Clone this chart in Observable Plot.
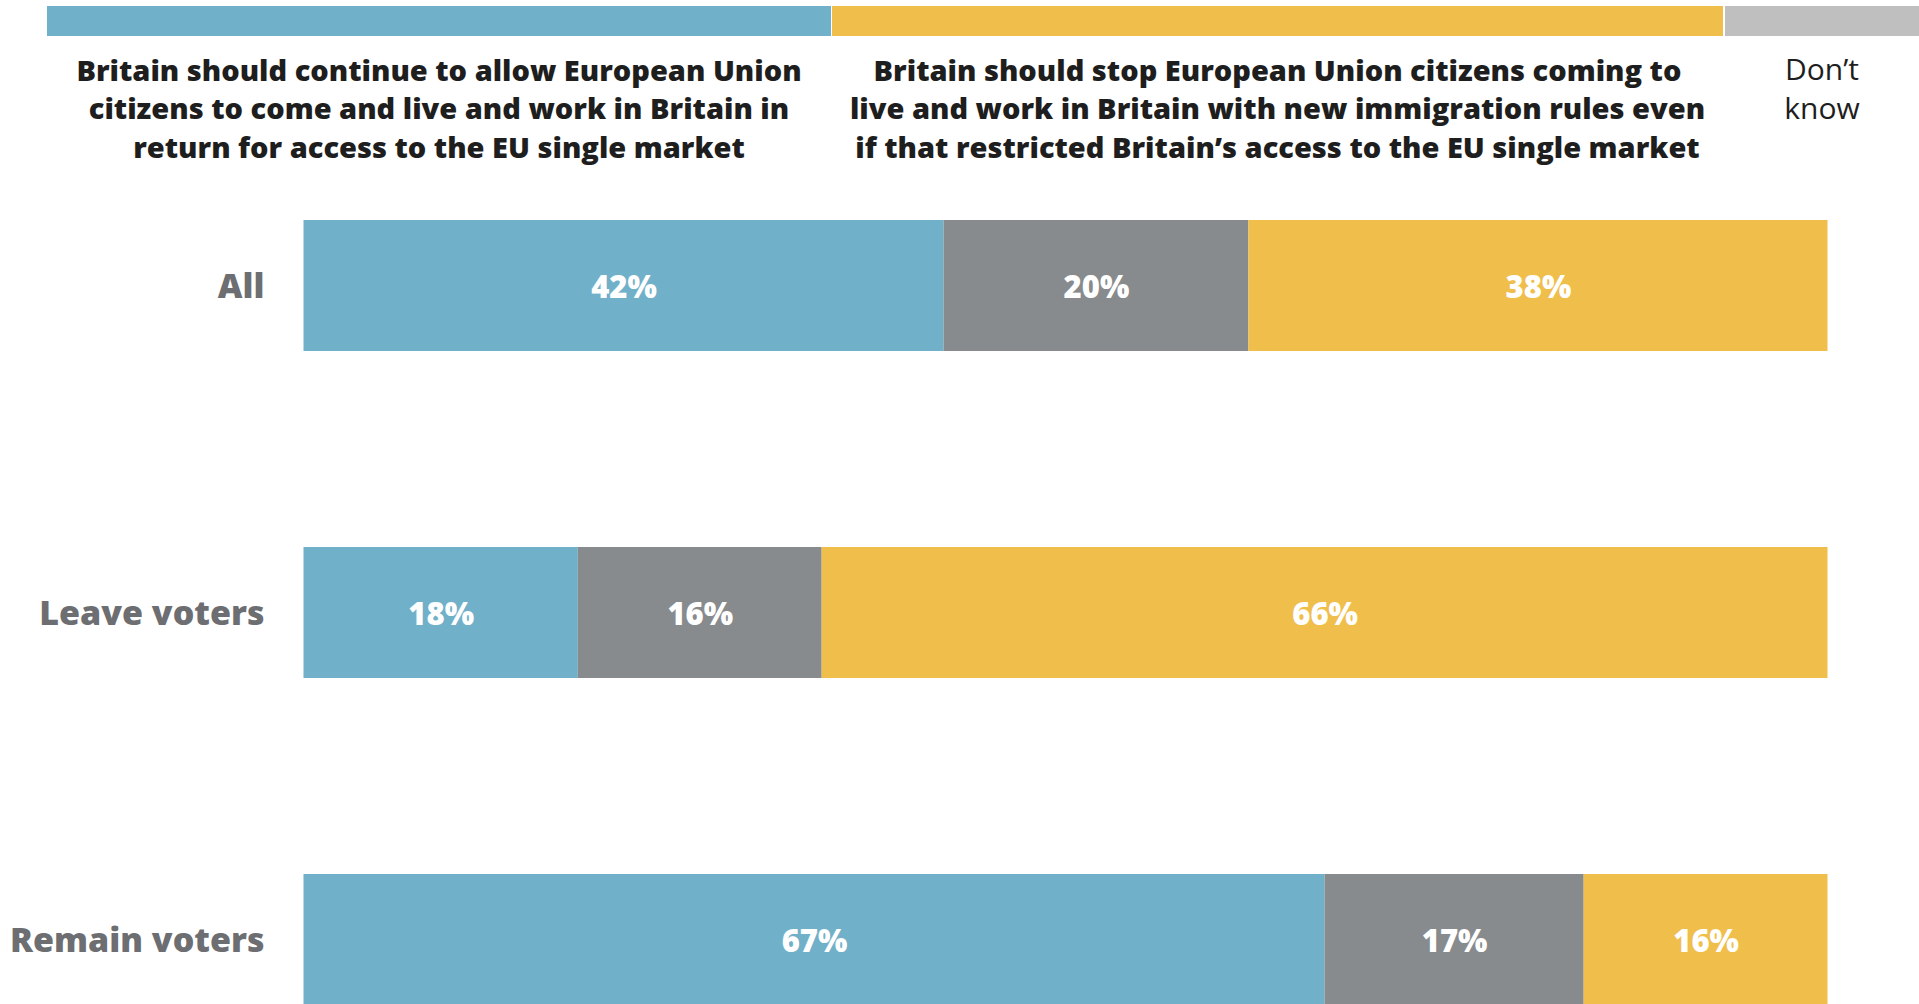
<!DOCTYPE html>
<html>
<head>
<meta charset="utf-8">
<script src="https://cdn.jsdelivr.net/npm/d3@7"></script>
<script src="https://cdn.jsdelivr.net/npm/@observablehq/plot@0.6"></script>
<style>
  html, body { margin: 0; padding: 0; background: #fff; overflow: hidden; width: 1919px; height: 1004px; }
  #wrap { position: relative; width: 1919px; height: 1004px; font-family: "Open Sans", "Noto Sans", sans-serif; }
  #chart { position: absolute; left: 0; top: 0; }
  .lg-bar { position: absolute; top: 6px; height: 30px; }
  .lg-text { position: absolute; top: 50.5px; text-align: center; font-size: 29px; line-height: 38.5px; color: #1e1e1e; }
  .lg-text.light { font-size: 30px; top: 50px; }
</style>
</head>
<body>
<div id="wrap">
  <div id="chart"></div>
  <div id="legend"></div>
</div>
<script>
// ---- data ----
const groups = ["All", "Leave voters", "Remain voters"];
const answers = ["Continue", "Don't know", "Stop"];
const continueValues = [42, 18, 67];
const dontKnowValues = [20, 16, 17];
const stopValues = [38, 66, 16];
const answerColors = ["#71b0c9", "#888b8d", "#f0be4a"];

// legend entries (header)
const legendLabels = [
  ["Britain should continue to allow European Union", "citizens to come and live and work in Britain in", "return for access to the EU single market"],
  ["Britain should stop European Union citizens coming to", "live and work in Britain with new immigration rules even", "if that restricted Britain\u2019s access to the EU single market"],
  ["Don\u2019t", "know"]
];
const legendColors = ["#71b0c9", "#f0be4a", "#bfbfbf"];
const legendWeights = [800, 800, 400];

// ---- table ----
const valuesByAnswer = [continueValues, dontKnowValues, stopValues];
const table = [];
groups.forEach((g, i) => {
  answers.forEach((a, j) => {
    table.push({group: g, answer: a, value: valuesByAnswer[j][i]});
  });
});

const chart = Plot.plot({
  width: 1919,
  height: 1006,
  marginLeft: 303.5,
  marginRight: 91.5,
  marginTop: 219,
  marginBottom: 0,
  style: {fontFamily: "'Open Sans', 'Noto Sans', sans-serif", background: "transparent", overflow: "visible"},
  x: {domain: [0, 100], axis: null},
  y: {domain: groups, paddingInner: 0.6006, paddingOuter: 0, label: null},
  color: {domain: answers, range: answerColors},
  marks: [
    Plot.barX(table, Plot.stackX({x: "value", y: "group", fill: "answer", order: answers})),
    Plot.text(table, Plot.stackX({x: "value", y: "group", z: "answer", order: answers,
      text: d => d.value + "%", fill: "white", fontSize: 31, fontWeight: 800, dy: 2})),
    Plot.axisY({tickSize: 0, tickPadding: 39.5, fontSize: 34, fontWeight: 800, fill: "#6d6e71", label: null, dy: 1})
  ]
});
document.getElementById("chart").appendChild(chart);

// ---- header legend (HTML) ----
const legendBars = [[47, 784], [832, 891], [1725, 200]];
const legendTextBoxes = [[47, 784], [832, 891], [1725, 194]];
const legend = document.getElementById("legend");
legendLabels.forEach((lines, i) => {
  const bar = document.createElement("div");
  bar.className = "lg-bar";
  bar.style.left = legendBars[i][0] + "px";
  bar.style.width = legendBars[i][1] + "px";
  bar.style.background = legendColors[i];
  legend.appendChild(bar);
  const t = document.createElement("div");
  t.className = "lg-text" + (legendWeights[i] < 500 ? " light" : "");
  t.style.left = legendTextBoxes[i][0] + "px";
  t.style.width = legendTextBoxes[i][1] + "px";
  t.style.fontWeight = legendWeights[i];
  t.innerHTML = lines.join("<br>");
  legend.appendChild(t);
});
</script>
</body>
</html>
